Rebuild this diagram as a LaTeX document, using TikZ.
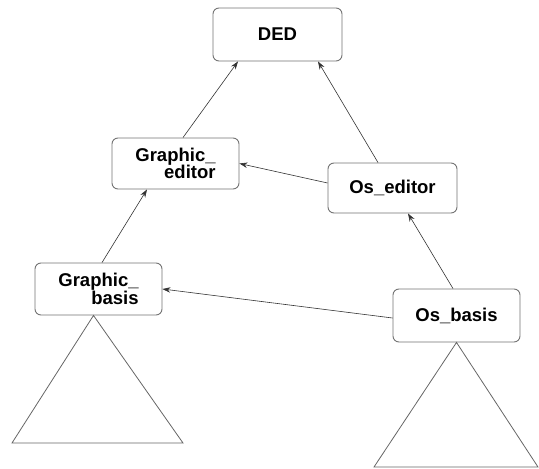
\documentclass[tikz,border=0pt]{standalone}
\usepackage{fontspec}
\setmainfont{Liberation Sans}
\usetikzlibrary{arrows.meta}
\begin{document}
\begin{tikzpicture}[x=1pt,y=-1pt,
  module/.style={draw=black!55, line width=0.9pt, rounded corners=6pt, fill=white,
    inner sep=0pt, align=right,
    font=\fontsize{18.5}{17.5}\selectfont\bfseries},
  dep/.style={draw=black!80, line width=0.6pt,
    -{Stealth[length=8pt,width=5.5pt]}},
  subtree/.style={draw=black!60, line width=0.8pt, line join=miter}]
\useasboundingbox (0,0) rectangle (539,469);

% modules
\node[module, minimum width=129pt, minimum height=53pt] (ded) at (277.5,34.5) {DED};
\node[module, minimum width=127pt, minimum height=51pt] (ge) at (175.5,163.5) {Graphic\_\\editor};
\node[module, minimum width=129pt, minimum height=50pt] (oe) at (392.5,188) {Os\_editor};
\node[module, minimum width=127pt, minimum height=52pt] (gb) at (98.5,289) {Graphic\_\\basis};
\node[module, minimum width=127pt, minimum height=53pt] (ob) at (456.5,315.5) {Os\_basis};

% dependencies
\draw[dep] ([xshift=7.5pt]ge.north) -- ([xshift=-39.5pt]ded.south);
\draw[dep] ([xshift=-14.5pt]oe.north) -- ([xshift=40.5pt]ded.south);
\draw[dep] ([yshift=5pt]oe.west) -- (ge.east);
\draw[dep] ([xshift=3.5pt]gb.north) -- ([xshift=-28.5pt]ge.south);
\draw[dep] ([xshift=-3.5pt]ob.north) -- ([xshift=15.5pt]oe.south);
\draw[dep] ([yshift=-2.5pt]ob.west) -- (gb.east);

% sub-trees below the basis modules
\coordinate (gbl) at (12,443);
\coordinate (gbr) at (183,443);
\coordinate (obl) at (374,467);
\coordinate (obr) at (538,467);
\draw[subtree] ([xshift=-5pt]gb.south) -- (gbl) -- (gbr) -- cycle;
\draw[subtree] (ob.south) -- (obl) -- (obr) -- cycle;
\end{tikzpicture}
\end{document}
